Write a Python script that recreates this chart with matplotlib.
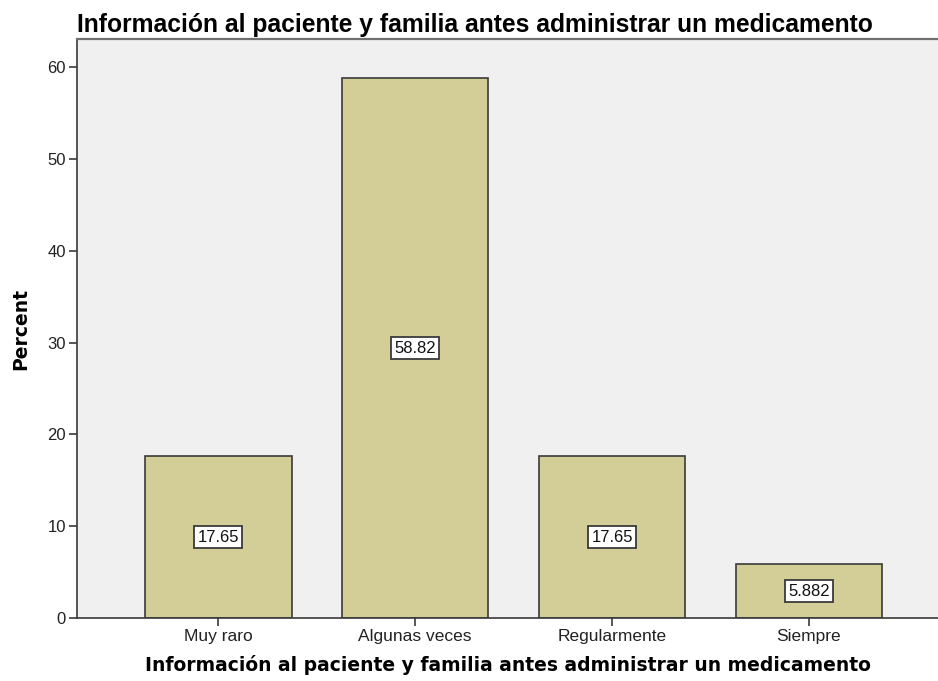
import matplotlib.pyplot as plt

categories = ['Muy raro', 'Algunas veces', 'Regularmente', 'Siempre']
percents = [17.65, 58.82, 17.65, 5.882]
labels = ['17.65', '58.82', '17.65', '5.882']
yticks = [0, 10, 20, 30, 40, 50, 60]
titulo = 'Información al paciente y familia antes administrar un medicamento'

plt.rcParams['font.family'] = ['Liberation Sans', 'DejaVu Sans']

fig = plt.figure(figsize=(9.38, 6.81), dpi=100)
ax = fig.add_axes([0.0821, 0.0925, 0.9179, 0.8502])
ax.set_facecolor('#f0f0f0')

x = list(range(len(categories)))
ax.bar(x, percents, width=0.746, color='#d3ce97', edgecolor='#3a3a3a', linewidth=1.2, zorder=2)

for xi, v, lab in zip(x, percents, labels):
    ax.text(xi, v / 2, lab, ha='center', va='center', fontsize=12, color='#111111', zorder=3,
            bbox=dict(boxstyle='square,pad=0.2', facecolor='white', edgecolor='#3a3a3a', linewidth=1.3))

ax.set_xlim(-0.716, 3.655)
ax.set_ylim(0, 63.1)
ax.set_xticks(x)
ax.set_xticklabels(categories, fontsize=12.5, color='#222222')
ax.set_yticks(yticks)
ax.set_yticklabels([str(t) for t in yticks], fontsize=12, color='#222222')
ax.tick_params(axis='both', direction='out', length=6, width=1.2, color='#3a3a3a', pad=2)

for side in ['left', 'bottom']:
    ax.spines[side].set_color('#3a3a3a')
    ax.spines[side].set_linewidth(1.2)
ax.spines['top'].set_color('#707070')
ax.spines['top'].set_linewidth(1.6)
ax.spines['right'].set_visible(False)

ax.set_ylabel('Percent', fontsize=13.5, fontweight='bold', family='DejaVu Sans', labelpad=12)
ax.set_xlabel(titulo, fontsize=13.5, fontweight='bold', family='DejaVu Sans', labelpad=8)
ax.set_title(titulo, fontsize=17.7, fontweight='bold', loc='left', pad=5)

fig.savefig('out.png', dpi=100)
